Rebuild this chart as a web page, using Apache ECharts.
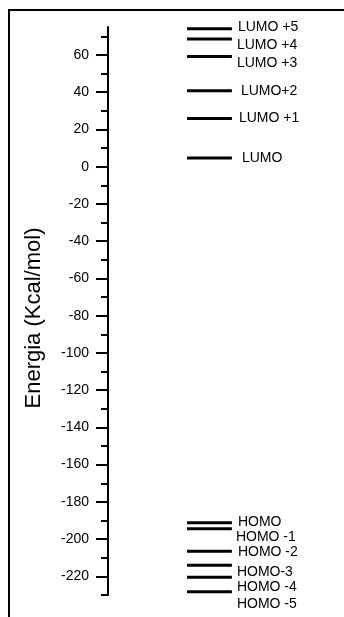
<!DOCTYPE html>
<html>
<head>
<meta charset="utf-8">
<script src="https://cdn.jsdelivr.net/npm/echarts@6/dist/echarts.min.js"></script>
<style>
  html, body { margin: 0; padding: 0; background: #fff; }
  #chart { width: 344px; height: 617px; }
</style>
</head>
<body>
<div id="chart"></div>
<script>
// ---- data ----
const levelLabels = ['LUMO +5', 'LUMO +4', 'LUMO +3', 'LUMO+2', 'LUMO +1', 'LUMO',
                     'HOMO', 'HOMO -1', 'HOMO -2', 'HOMO-3', 'HOMO -4', 'HOMO -5'];
const levelValues = [74, 68.6, 59.2, 40.8, 25.8, 4.7,
                     -191.2, -194.4, -206.5, -214, -220.5, -228.2];
const axisMin = -230;
const axisMax = 75;
const majorTicks = [-220, -200, -180, -160, -140, -120, -100, -80, -60, -40, -20, 0, 20, 40, 60];
const minorTicks = [-230, -210, -190, -170, -150, -130, -110, -90, -70, -50, -30, -10, 10, 30, 50, 70];
const axisTitle = 'Energia (Kcal/mol)';

// ---- layout (pixels / fractions, not data) ----
const LEVEL_X0 = 0.335, LEVEL_X1 = 0.525;
const LABEL_GAP = 5;
const LABEL_DX = [1, 0, 0, 4, 2, 5, 1, -1, 1, 0, 0, 0];
const LABEL_DY = [-1.5, 6.5, 7, 0, 0, 0, -1, 8.5, 0.5, 6.5, 9.5, 12];
const FONT = '"Liberation Sans", Arial, Helvetica, sans-serif';

const chart = echarts.init(document.getElementById('chart'), null, { renderer: 'canvas' });

chart.setOption({
  animation: false,
  backgroundColor: '#fff',
  grid: { left: 108, right: 0, top: 27, bottom: 22 },
  xAxis: { type: 'value', min: 0, max: 1, show: false },
  yAxis: [
    {
      type: 'value', min: axisMin, max: axisMax, position: 'left',
      name: axisTitle, nameLocation: 'middle', nameGap: 63,
      nameTextStyle: { fontSize: 22, fontFamily: FONT, color: '#000', padding: [0, 14, 0, 0] },
      axisLine: { show: true, lineStyle: { color: '#000', width: 2 } },
      axisTick: { show: true, length: 7, lineStyle: { color: '#000', width: 2 },
                  customValues: minorTicks.concat(majorTicks) },
      axisLabel: { show: true, margin: 19, color: '#000', fontSize: 14, fontFamily: FONT,
                   customValues: majorTicks },
      splitLine: { show: false }
    },
    {
      type: 'value', min: axisMin, max: axisMax, position: 'left', offset: 0,
      axisLine: { show: false },
      axisTick: { show: true, length: 12, lineStyle: { color: '#000', width: 2 },
                  customValues: majorTicks },
      axisLabel: { show: false },
      splitLine: { show: false }
    }
  ],
  graphic: [
    { type: 'polyline', shape: { points: [[9, 617], [9, 10], [344, 10]] },
      style: { stroke: '#000', lineWidth: 2, fill: null }, silent: true }
  ],
  series: [{
    type: 'custom',
    coordinateSystem: 'cartesian2d',
    yAxisIndex: 0,
    clip: false,
    encode: { x: 0, y: 1 },
    data: levelValues.map((v) => [0.5, v]),
    renderItem: function (params, api) {
      const v = api.value(1);
      const i = params.dataIndex;
      const p0 = api.coord([LEVEL_X0, v]);
      const p1 = api.coord([LEVEL_X1, v]);
      return {
        type: 'group',
        children: [
          { type: 'line', shape: { x1: p0[0], y1: p0[1], x2: p1[0], y2: p1[1] },
            style: { stroke: '#000', lineWidth: 3 } },
          { type: 'text', x: p1[0] + LABEL_GAP + LABEL_DX[i], y: p0[1] + LABEL_DY[i],
            style: { text: levelLabels[i], fill: '#000', fontSize: 14, fontFamily: FONT,
                     align: 'left', verticalAlign: 'middle' } }
        ]
      };
    }
  }]
});
</script>
</body>
</html>
